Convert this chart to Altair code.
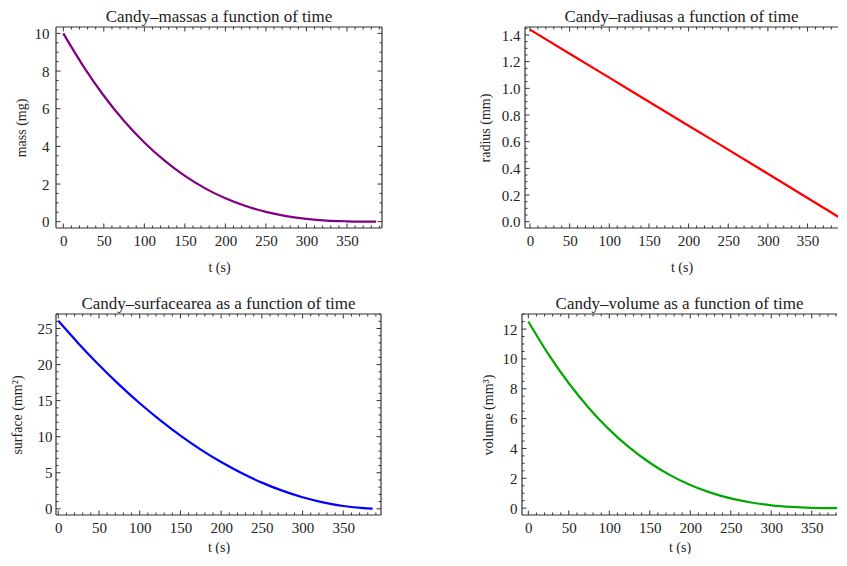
import altair as alt
import pandas as pd

# ---- data ----
T_CURVE = [0, 25, 50, 75, 100, 125, 150, 175, 200, 225, 250, 275, 300, 325, 350, 375, 386]
MASS = [10.0, 8.24, 6.69, 5.35, 4.21, 3.24, 2.43, 1.77, 1.24, 0.83, 0.52, 0.30, 0.15, 0.06, 0.02, 0.00, 0.00]
SURFACE = [26.06, 22.90, 19.94, 17.18, 14.63, 12.29, 10.15, 8.21, 6.48, 4.96, 3.63, 2.52, 1.60, 0.90, 0.39, 0.09, 0.03]
T_VOLUME = [0, 25, 50, 75, 100, 125, 150, 175, 200, 225, 250, 275, 300, 325, 350, 375, 392]
VOLUME = [12.51, 10.30, 8.37, 6.70, 5.26, 4.05, 3.04, 2.21, 1.55, 1.04, 0.65, 0.38, 0.19, 0.08, 0.02, 0.00, 0.00]
T_RADIUS = [0, 100, 200, 300, 399]
RADIUS = [1.44, 1.08, 0.72, 0.36, 0.00]

X_MAJOR = [0, 50, 100, 150, 200, 250, 300, 350]
X_MINOR_STEP = 10
MASS_TICKS = [0, 2, 4, 6, 8, 10]
RADIUS_TICKS = [0.0, 0.2, 0.4, 0.6, 0.8, 1.0, 1.2, 1.4]
SURFACE_TICKS = [0, 5, 10, 15, 20, 25]
VOLUME_TICKS = [0, 2, 4, 6, 8, 10, 12]

FONT = "Liberation Serif"
TEXT = "#222222"
FRAME = "#333333"


def minor(lo, hi, step, major):
    out = []
    k = int(round(lo / step)) - 1
    while k * step <= hi + 1e-9:
        v = round(k * step, 6)
        if lo <= v <= hi and all(abs(v - m) > 1e-9 for m in major):
            out.append(v)
        k += 1
    return out


def axis(values, fmt, title, lpad, tpad):
    return alt.Axis(values=values, format=fmt, title=title, ticks=False, tickSize=0,
                    domain=False, grid=False, labelPadding=lpad, titlePadding=tpad,
                    labelFont=FONT, labelFontSize=15, labelColor=TEXT,
                    titleFont=FONT, titleFontSize=14, titleFontWeight="normal",
                    titleColor=TEXT)


def panel(t, v, color, title, ytitle, xdom, ydom, w, h, ymajor, ystep, yfmt,
          full_frame, ylpad, ytpad, xtpad):
    df = pd.DataFrame({"t": t, "v": v})
    xs = alt.Scale(domain=xdom, nice=False, zero=False)
    ys = alt.Scale(domain=ydom, nice=False, zero=False)
    xaxis = axis(X_MAJOR, "d", "t (s)", 5, xtpad)
    yaxis = axis(ymajor, yfmt, ytitle, ylpad, ytpad)

    line = alt.Chart(df).mark_line(color=color, strokeWidth=2.2, clip=True,
                                   interpolate="monotone").encode(
        x=alt.X("t:Q", scale=xs, axis=xaxis),
        y=alt.Y("v:Q", scale=ys, axis=yaxis),
    )

    xmaj = pd.DataFrame({"t": X_MAJOR})
    xmin = pd.DataFrame({"t": minor(xdom[0], xdom[1], X_MINOR_STEP, X_MAJOR)})
    ymaj = pd.DataFrame({"v": ymajor})
    ymin = pd.DataFrame({"v": minor(ydom[0], ydom[1], ystep, ymajor)})

    layers = [line]

    def xt(d, y0, y1):
        return alt.Chart(d).mark_rule(color=FRAME, strokeWidth=1).encode(
            x=alt.X("t:Q", scale=xs, axis=xaxis), y=alt.value(y0), y2=alt.value(y1))

    def yt(d, x0, x1):
        return alt.Chart(d).mark_rule(color=FRAME, strokeWidth=1).encode(
            y=alt.Y("v:Q", scale=ys, axis=yaxis), x=alt.value(x0), x2=alt.value(x1))

    layers += [xt(xmaj, h, h - 4.5), xt(xmin, h, h - 2.5),
               xt(xmaj, 0, 4.5), xt(xmin, 0, 2.5),
               yt(ymaj, 0, 4.5), yt(ymin, 0, 2.5)]
    if full_frame:
        layers += [yt(ymaj, w, w - 4.5), yt(ymin, w, w - 2.5)]

    # frame edges
    fr = pd.DataFrame({"k": [0]})
    edge = alt.Chart(fr).mark_rule(color=FRAME, strokeWidth=1.2)
    layers += [edge.encode(x=alt.value(0), x2=alt.value(w), y=alt.value(0)),
               edge.encode(x=alt.value(0), x2=alt.value(w), y=alt.value(h)),
               edge.encode(x=alt.value(0), y=alt.value(0), y2=alt.value(h))]
    if full_frame:
        layers += [edge.encode(x=alt.value(w), y=alt.value(0), y2=alt.value(h))]

    return alt.layer(*layers).properties(
        width=w, height=h,
        title=alt.TitleParams(title, font=FONT, fontSize=17, fontWeight="normal",
                              color=TEXT, offset=0),
        view=alt.ViewBackground(stroke=None),
    )


p1 = panel(T_CURVE, MASS, "#800080", "Candy–massas a function of time", "mass (mg)",
           [-9.0, 393.2], [-0.335, 10.34], 326, 201, MASS_TICKS, 0.5, "d", True, 7, 6, 12)
p2 = panel(T_RADIUS, RADIUS, "#ff0000", "Candy–radiusas a function of time", "radius (mm)",
           [-6.3, 388.4], [-0.047, 1.460], 313, 201, RADIUS_TICKS, 0.05, ".1f", False, 5, 9, 12)
p3 = panel(T_CURVE, SURFACE, "#0000ff", "Candy–surfacearea as a function of time", "surface (mm²)",
           [-2.8, 396.3], [-0.86, 27.01], 325, 201, SURFACE_TICKS, 1, "d", True, 4, 13, 5)
p4 = panel(T_VOLUME, VOLUME, "#00a800", "Candy–volume as a function of time", "volume (mm³)",
           [-7.8, 381.2], [-0.46, 13.01], 315, 201, VOLUME_TICKS, 0.5, "d", False, 5, 7, 5)

row1 = alt.hconcat(p1, p2, spacing=95)
row2 = alt.hconcat(p3, p4, spacing=99)

chart = alt.vconcat(row1, row2, spacing=21).properties(
    padding={"left": 2, "top": 0, "right": 0, "bottom": 0},
    background="white",
).configure_view(stroke=None)

chart.save("out.html", embed_options={"renderer": "svg", "actions": False})
